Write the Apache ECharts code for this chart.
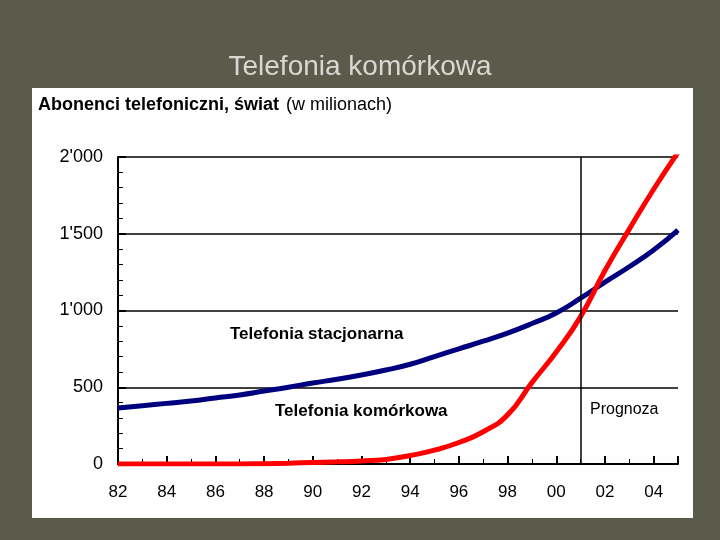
<!DOCTYPE html>
<html><head><meta charset="utf-8">
<script src="https://cdn.jsdelivr.net/npm/echarts@6/dist/echarts.min.js"></script>
<style>html,body{margin:0;padding:0;background:#5b5b4c}#c{width:720px;height:540px}</style>
</head><body><div id="c"></div>
<script>
const years = [1982,1983,1984,1985,1986,1987,1988,1989,1990,1991,1992,1993,1994,1995,1996,1997,1998,1999,2000,2001,2002,2003,2004,2005];
const fixedLine = [365,380,395,410,430,450,475,500,528,552,580,612,650,700,750,800,853,915,984,1080,1185,1285,1394,1524];
const mobile = [0,0,0,0,0,0,2,5,10,14,20,30,55,90,140,210,320,530,730,960,1260,1530,1790,2030];
const yTicks = [0,500,1000,1500,2000];
const forecastYear = 2001;
const fmtY = v => v>=1000 ? String(v).slice(0,-3)+"'"+String(v).slice(-3) : String(v);
const chart = echarts.init(document.getElementById('c'));
chart.setOption({
  backgroundColor:'#5b5b4c',
  animation:false,
  graphic:[
    {type:'rect',shape:{x:32,y:88,width:661,height:430},style:{fill:'#fff'},z:-1},
    {type:'text',left:'center',top:53,style:{text:'Telefonia komórkowa',fill:'#d8d8d0',font:'28px "Liberation Sans", Arial'}},
    {type:'text',left:38,top:96,style:{text:'Abonenci telefoniczni, świat',fill:'#000',font:'bold 18px "Liberation Sans", Arial'}},
    {type:'text',left:286,top:96,style:{text:'(w milionach)',fill:'#000',font:'18px "Liberation Sans", Arial'}},
    {type:'text',left:230,top:326,style:{text:'Telefonia stacjonarna',fill:'#000',font:'bold 17px "Liberation Sans", Arial'}},
    {type:'text',left:275,top:403,style:{text:'Telefonia komórkowa',fill:'#000',font:'bold 17px "Liberation Sans", Arial'}},
    {type:'text',left:590,top:402,style:{text:'Prognoza',fill:'#000',font:'16px "Liberation Sans", Arial'}}
  ],
  grid:{left:118,right:42,top:157,bottom:76},
  xAxis:{type:'value',min:1982,max:2005,interval:2,
    axisLine:{show:true,lineStyle:{color:'#000',width:2}},
    axisTick:{show:true,inside:true,length:8,lineStyle:{color:'#000',width:2}},
    minorTick:{show:true,splitNumber:2,length:5,lineStyle:{color:'#000'}},
    splitLine:{show:false},
    axisLabel:{color:'#000',fontSize:17,margin:20,fontFamily:'Liberation Sans',formatter:v=>v<=2004?String(v).slice(2):''}},
  yAxis:{type:'value',min:0,max:2000,interval:500,
    axisLine:{show:true,lineStyle:{color:'#000',width:2}},
    axisTick:{show:true,length:8,inside:true,lineStyle:{color:'#000',width:2}},
    minorTick:{show:true,splitNumber:5,length:5,lineStyle:{color:'#000'}},
    splitLine:{show:true,lineStyle:{color:'#000',width:1.5}},
    axisLabel:{color:'#000',fontSize:18,margin:15,fontFamily:'Liberation Sans',formatter:fmtY}},
  series:[
    {type:'line',data:years.map((y,i)=>[y,fixedLine[i]]),smooth:true,symbol:'none',lineStyle:{color:'#00007f',width:5},
     markLine:{symbol:'none',silent:true,label:{show:false},lineStyle:{color:'#000',width:1.5,type:'solid'},data:[{xAxis:forecastYear}]}},
    {type:'line',data:years.map((y,i)=>[y,mobile[i]]),smooth:true,symbol:'none',lineStyle:{color:'#ff0000',width:5}}
  ]
});
</script></body></html>
